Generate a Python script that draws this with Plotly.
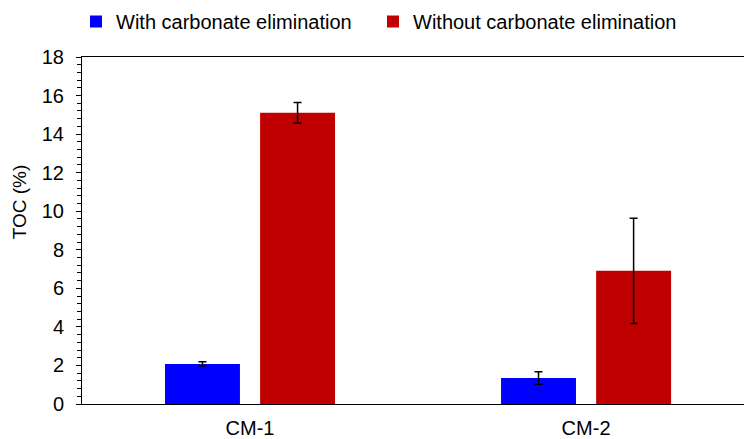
import plotly.graph_objects as go

categories = ["CM-1", "CM-2"]
with_carb = [2.08, 1.35]
with_carb_err = [0.11, 0.32]
without_carb = [15.11, 6.91]
without_carb_err = [0.53, 2.73]
series_names = ["With carbonate elimination", "Without carbonate elimination"]
y_ticks = [0, 2, 4, 6, 8, 10, 12, 14, 16, 18]

FONT = "Liberation Sans, Arial, sans-serif"

fig = go.Figure()
fig.add_trace(go.Bar(
    x=categories, y=with_carb, name=series_names[0],
    marker=dict(color="#0000FF", line=dict(width=0)),
    width=0.223, offset=-0.253, legend="legend",
    error_y=dict(type="data", array=with_carb_err, color="black", thickness=1.5, width=4),
))
fig.add_trace(go.Bar(
    x=categories, y=without_carb, name=series_names[1],
    marker=dict(color="#C00000", line=dict(width=0)),
    width=0.223, offset=0.030, legend="legend2",
    error_y=dict(type="data", array=without_carb_err, color="black", thickness=1.5, width=4),
))

leg_common = dict(
    orientation="h", xanchor="left", y=1.0 - 2 / 439, yanchor="top",
    yref="container", xref="container",
    font=dict(family=FONT, size=20, color="black"),
    bgcolor="rgba(0,0,0,0)", borderwidth=0, itemclick=False,
)

fig.update_layout(
    width=744, height=439,
    margin=dict(l=82, r=0, t=57, b=32, pad=0),
    paper_bgcolor="white", plot_bgcolor="white",
    font=dict(family=FONT, size=20, color="black"),
    showlegend=True,
    legend=dict(x=76 / 744, **leg_common),
    legend2=dict(x=373 / 744, **leg_common),
    annotations=[dict(
        text="TOC (%)", textangle=-90, xref="paper", yref="paper",
        x=-0.095, y=(406.5 - 203) / 350, xanchor="center", yanchor="middle",
        showarrow=False, font=dict(family=FONT, size=19, color="black"),
    )],
)

fig.update_xaxes(
    type="category", range=[-0.5, 1.47],
    showline=True, linecolor="black", linewidth=1, mirror=True,
    ticks="", showgrid=False, zeroline=False,
    tickfont=dict(family=FONT, size=20, color="black"),
    ticklabelstandoff=6,
)
fig.update_yaxes(
    range=[0, 18], tickvals=y_ticks,
    showline=True, linecolor="black", linewidth=1,
    ticks="outside", ticklen=5, tickcolor="black", tickwidth=1,
    minor=dict(dtick=0.4, ticks="outside", ticklen=4, tickcolor="black", tickwidth=1),
    showgrid=False, zeroline=False,
    tickfont=dict(family=FONT, size=20, color="black"),
    ticklabelstandoff=8,
)

fig.write_html("out.html")
